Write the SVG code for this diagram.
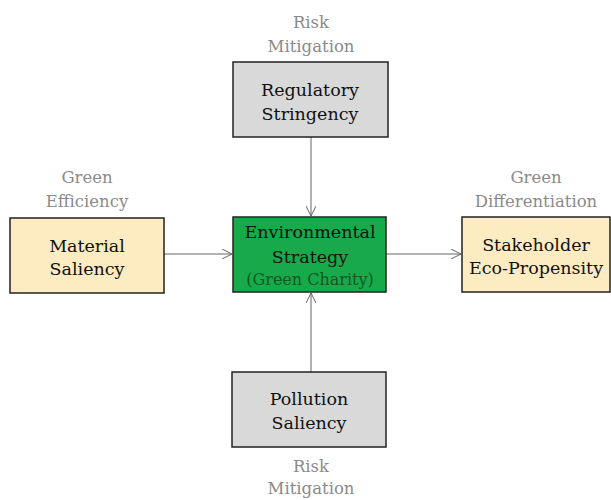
<svg xmlns="http://www.w3.org/2000/svg" width="611" height="500" viewBox="0 0 611 500">
  <style>
    .box { stroke: #222; stroke-width: 1.5; }
    .grey { fill: #d9d9d9; }
    .cream { fill: #fdebc2; }
    .green { fill: #18a94a; }
    .t { font-family: "DejaVu Serif", "Liberation Serif", serif; font-size: 17.5px; fill: #111; text-anchor: middle; }
    .lbl { font-family: "DejaVu Serif", "Liberation Serif", serif; font-size: 16.5px; fill: #8a8a8a; text-anchor: middle; }
    .sub { font-family: "DejaVu Serif", "Liberation Serif", serif; font-size: 16px; fill: #0b5a25; text-anchor: middle; }
    .edge { stroke: #666; stroke-width: 1; fill: none; marker-end: url(#open); }
  </style>
  <defs>
    <marker id="open" viewBox="0 0 10 10" refX="10" refY="5" markerWidth="10" markerHeight="10" markerUnits="userSpaceOnUse" orient="auto">
      <path d="M0,0 L10,5 L0,10" fill="none" stroke="#666" stroke-width="1"/>
    </marker>
  </defs>
  <rect width="611" height="500" fill="#fff"/>

  <g id="connectors">
    <line class="edge" x1="311" y1="137" x2="311" y2="216"/>
    <line class="edge" x1="164" y1="254" x2="232" y2="254"/>
    <line class="edge" x1="386" y1="254" x2="461" y2="254"/>
    <line class="edge" x1="311" y1="372" x2="311" y2="293"/>
  </g>

  <g id="regulatory">
    <text class="lbl" x="311" y="28">Risk</text>
    <text class="lbl" x="311" y="52">Mitigation</text>
    <rect class="box grey" x="233" y="62" width="155" height="75"/>
    <text class="t" x="310" y="96">Regulatory</text>
    <text class="t" x="310" y="120">Stringency</text>
  </g>

  <g id="material">
    <text class="lbl" x="87" y="183">Green</text>
    <text class="lbl" x="87" y="207">Efficiency</text>
    <rect class="box cream" x="10" y="218" width="154" height="75"/>
    <text class="t" x="87" y="252">Material</text>
    <text class="t" x="87" y="275">Saliency</text>
  </g>

  <g id="strategy">
    <rect class="box green" x="233" y="217" width="153" height="75"/>
    <text class="t" x="310" y="238">Environmental</text>
    <text class="t" x="310" y="263">Strategy</text>
    <text class="sub" x="310" y="285">(Green Charity)</text>
  </g>

  <g id="stakeholder">
    <text class="lbl" x="536" y="183">Green</text>
    <text class="lbl" x="536" y="207">Differentiation</text>
    <rect class="box cream" x="462" y="217" width="148" height="75"/>
    <text class="t" x="536" y="251">Stakeholder</text>
    <text class="t" x="536" y="274">Eco-Propensity</text>
  </g>

  <g id="pollution">
    <rect class="box grey" x="232" y="372" width="154" height="75"/>
    <text class="t" x="309" y="405">Pollution</text>
    <text class="t" x="309" y="429">Saliency</text>
    <text class="lbl" x="311" y="472">Risk</text>
    <text class="lbl" x="311" y="494">Mitigation</text>
  </g>
</svg>
